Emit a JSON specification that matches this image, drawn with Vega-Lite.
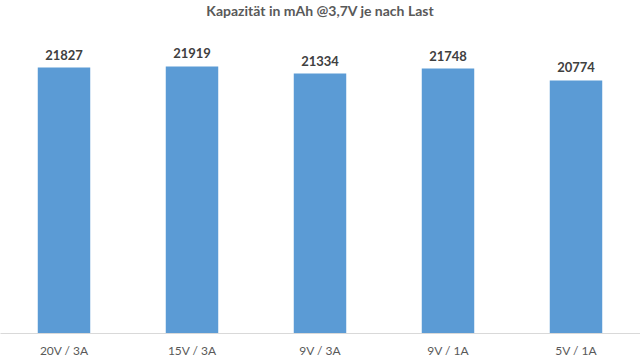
{
  "$schema": "https://vega.github.io/schema/vega-lite/v6.json",
  "width": 640,
  "height": 304,
  "autosize": "none",
  "padding": {"left": 0, "right": 0, "top": 29, "bottom": 27},
  "background": "white",
  "config": {"view": {"stroke": null}, "font": "Lato"},
  "title": {"text": "Kapazität in mAh @3,7V je nach Last", "fontSize": 14, "fontWeight": "bold", "color": "#595959", "offset": 10, "font": "Lato"},
  "data": {"values": [
    {"last": "20V / 3A", "mah": 21827},
    {"last": "15V / 3A", "mah": 21919},
    {"last": "9V / 3A", "mah": 21334},
    {"last": "9V / 1A", "mah": 21748},
    {"last": "5V / 1A", "mah": 20774}
  ]},
  "encoding": {
    "x": {"field": "last", "type": "nominal", "sort": null,
      "scale": {"paddingInner": 0.59, "paddingOuter": 0.295},
      "axis": {"title": null, "labelAngle": 0, "ticks": false, "domainColor": "#d9d9d9", "labelColor": "#595959", "labelFontSize": 12, "labelPadding": 12, "labelFont": "Lato"}},
    "y": {"field": "mah", "type": "quantitative", "scale": {"domain": [0, 25000], "nice": false}, "axis": null}
  },
  "layer": [
    {"mark": {"type": "bar", "color": "#5B9BD5"}},
    {"mark": {"type": "text", "baseline": "bottom", "dy": -5, "fontSize": 13, "fontWeight": "bold", "color": "#404040", "font": "Lato"},
     "encoding": {"text": {"field": "mah", "type": "quantitative", "format": "d"}}}
  ]
}
